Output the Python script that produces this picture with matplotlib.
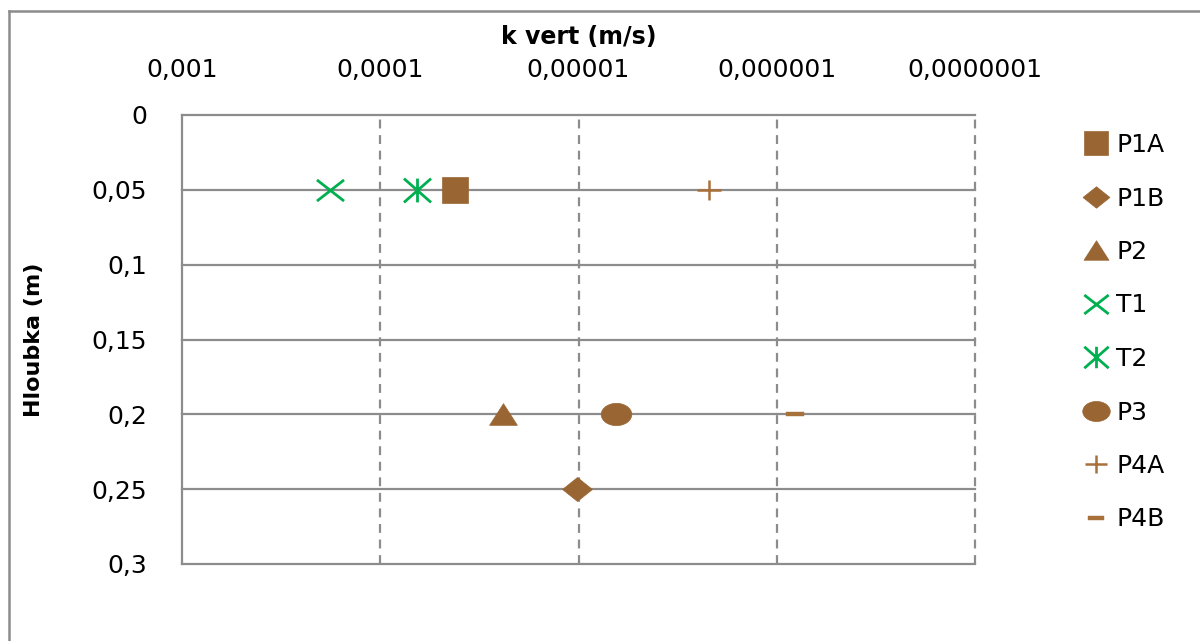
import numpy as np
import matplotlib
matplotlib.use('Agg')
import matplotlib.pyplot as plt
from matplotlib.path import Path
from matplotlib.lines import Line2D
from matplotlib.ticker import FixedLocator, NullLocator

# data
names = ['P1A', 'P1B', 'P2', 'T1', 'T2', 'P3', 'P4A', 'P4B']
kvert = [4.2e-5, 1.02e-5, 2.4e-5, 1.8e-4, 6.5e-5, 6.5e-6, 2.2e-6, 8.1e-7]
depth = [0.05, 0.25, 0.2, 0.05, 0.05, 0.2, 0.05, 0.2]

x_ticks = [1e-3, 1e-4, 1e-5, 1e-6, 1e-7]
x_ticklabels = ['0,001', '0,0001', '0,00001', '0,000001', '0,0000001']
y_ticks = [0, 0.05, 0.1, 0.15, 0.2, 0.25, 0.3]
y_ticklabels = ['0', '0,05', '0,1', '0,15', '0,2', '0,25', '0,3']

brown = '#996633'
brown_light = '#A8703A'
green = '#00B050'
grid_c = '#8C8C8C'

M, L = Path.MOVETO, Path.LINETO
square = Path([(-1, -1), (1, -1), (1, 1), (-1, 1), (-1, -1)], closed=True)
diamond = Path([(-1, 0), (0, 0.8), (1, 0), (0, -0.8), (-1, 0)], closed=True)
triangle = Path([(-1, -0.78), (1, -0.78), (0, 0.78), (-1, -0.78)], closed=True)
xmark = Path([(-1, -0.78), (1, 0.78), (-1, 0.78), (1, -0.78)], [M, L, M, L])
star = Path([(-1, -0.88), (1, 0.88), (-1, 0.88), (1, -0.88), (0, -0.88), (0, 0.88)],
            [M, L, M, L, M, L])
circ = Path.unit_circle()
ellipse = Path(circ.vertices * np.array([1, 0.73]), circ.codes)
plus = Path([(-1, 0), (1, 0), (0, -0.87), (0, 0.87)], [M, L, M, L])
dash = Path([(-1, -0.27), (1, -0.27), (1, 0.27), (-1, 0.27), (-1, -0.27)], closed=True)

styles = {
    'P1A': dict(marker=square, ms=19, mfc=brown, mec=brown, mew=0.5),
    'P1B': dict(marker=diamond, ms=21.5, mfc=brown, mec=brown, mew=0.5),
    'P2': dict(marker=triangle, ms=20, mfc=brown, mec=brown, mew=0.5),
    'T1': dict(marker=xmark, ms=19.5, mfc='none', mec=green, mew=2),
    'T2': dict(marker=star, ms=19.5, mfc='none', mec=green, mew=2),
    'P3': dict(marker=ellipse, ms=22, mfc=brown, mec=brown, mew=0.5),
    'P4A': dict(marker=plus, ms=17, mfc='none', mec=brown_light, mew=1.8),
    'P4B': dict(marker=dash, ms=12.5, mfc=brown_light, mec=brown_light, mew=0.3),
}

plt.rcParams['font.family'] = 'DejaVu Sans'
fig = plt.figure(figsize=(12, 6.41), dpi=100)
ax = fig.add_axes([182 / 1200, 1 - 564 / 641, (975 - 182) / 1200, (564 - 115) / 641])

for i in range(len(names)):
    ax.plot(kvert[i], depth[i], linestyle='none', label=names[i], zorder=5, **styles[names[i]])

ax.set_xscale('log')
ax.set_xlim(1e-3, 1e-7)
ax.set_ylim(0.3, 0)
ax.xaxis.set_major_locator(FixedLocator(x_ticks))
ax.xaxis.set_minor_locator(NullLocator())
ax.set_xticklabels(x_ticklabels)
ax.set_yticks(y_ticks)
ax.set_yticklabels(y_ticklabels)
ax.xaxis.tick_top()
ax.xaxis.set_label_position('top')
ax.tick_params(axis='x', length=0, pad=24, labelsize=18)
ax.tick_params(axis='y', length=0, pad=25, labelsize=18)

for s in ['top', 'right', 'bottom']:
    ax.spines[s].set_visible(False)
ax.spines['left'].set_color(grid_c)
ax.spines['left'].set_linewidth(1.6)

for yv in y_ticks:
    ax.axhline(yv, color=grid_c, linewidth=1.6, zorder=1, clip_on=False)
for xv in x_ticks[1:]:
    ax.axvline(xv, color=grid_c, linewidth=1.6, linestyle=(0, (4, 3)), zorder=1, clip_on=False)

ax.set_xlabel('k vert (m/s)', fontsize=17, fontweight='bold', labelpad=10)
ax.set_ylabel('Hloubka (m)', fontsize=16, fontweight='bold', labelpad=34)

fig.legend(loc='upper left', bbox_to_anchor=(1075 / 1200, 1 - 123 / 641), frameon=False,
           fontsize=18, handlelength=0.9, handletextpad=0.35, labelspacing=1.18,
           borderaxespad=0, numpoints=1, markerscale=0.9)

# outer chart border (left and top edges visible)
fig.add_artist(Line2D([9 / 1200, 9 / 1200], [0, 1 - 11 / 641], color='#8C8C8C', lw=1.8))
fig.add_artist(Line2D([9 / 1200, 1], [1 - 11 / 641, 1 - 11 / 641], color='#8C8C8C', lw=1.8))

plt.savefig('out.png', dpi=100)
